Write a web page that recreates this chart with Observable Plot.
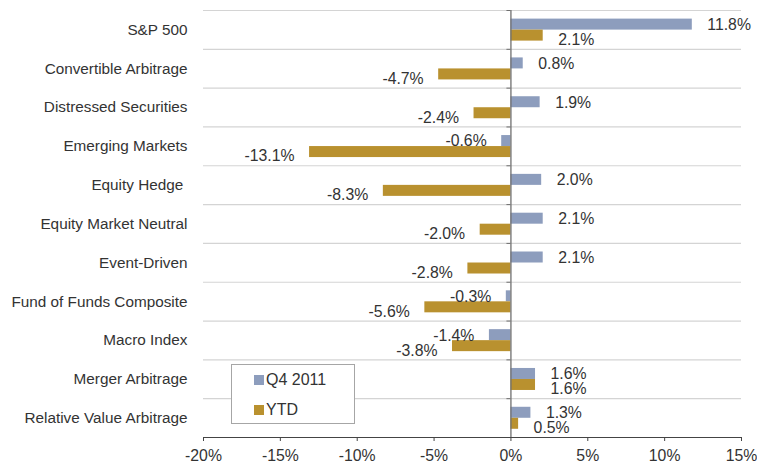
<!DOCTYPE html>
<html>
<head>
<meta charset="utf-8">
<script src="https://cdn.jsdelivr.net/npm/d3@7"></script>
<script src="https://cdn.jsdelivr.net/npm/@observablehq/plot@0.6"></script>
<style>
  body { margin: 0; background: #fff; }
  #wrap { position: relative; width: 757px; height: 466px; font-family: "Liberation Sans", Arial, sans-serif; color: #333; }
  #legend { position: absolute; left: 231px; top: 364px; width: 122px; height: 58px; border: 1px solid #a6a6a6; background: #fff; font-size: 16px; }
  .item { position: absolute; left: 22px; display: flex; align-items: center; }
  .sw { width: 10px; height: 10px; margin-right: 2px; }
</style>
</head>
<body>
<div id="wrap"></div>
<script>
const categories = ["S&P 500", "Convertible Arbitrage", "Distressed Securities", "Emerging Markets", "Equity Hedge ", "Equity Market Neutral", "Event-Driven", "Fund of Funds Composite", "Macro Index", "Merger Arbitrage", "Relative Value Arbitrage"];
const q4 = [11.8, 0.8, 1.9, -0.6, 2.0, 2.1, 2.1, -0.3, -1.4, 1.6, 1.3];
const ytd = [2.1, -4.7, -2.4, -13.1, -8.3, -2.0, -2.8, -5.6, -3.8, 1.6, 0.5];
const seriesNames = ["Q4 2011", "YTD"];
const colors = ["#8d9dbd", "#b9912f"];
const xTicks = [-20, -15, -10, -5, 0, 5, 10, 15];

const W = 757, H = 466, mT = 10, mB = 29, mL = 203, mR = 16;
const bw = (H - mT - mB) / categories.length;

const q4Data = categories.map((c, i) => ({cat: c, value: q4[i]}));
const ytdData = categories.map((c, i) => ({cat: c, value: ytd[i]}));
const fmt = d => d.value.toFixed(1) + "%";
const txt = "#333";

const labelMarks = (data, dy) => [
  Plot.text(data.filter(d => d.value >= 0), {x: "value", y: "cat", text: fmt, textAnchor: "start", dx: 15, dy, fontSize: 15.8, fill: txt}),
  Plot.text(data.filter(d => d.value < 0), {x: "value", y: "cat", text: fmt, textAnchor: "end", dx: -15, dy, fontSize: 15.8, fill: txt})
];

const chart = Plot.plot({
  width: W, height: H,
  marginTop: mT, marginBottom: mB, marginLeft: mL, marginRight: mR,
  style: {fontFamily: "Liberation Sans, Arial, sans-serif", fontSize: "15px", color: txt, background: "#fff"},
  x: {domain: [-20, 15], label: null},
  y: {domain: categories, padding: 0, round: false, label: null},
  marks: [
    Plot.ruleY(categories, {y: d => d, x1: -20, x2: 15, dy: -bw / 2, stroke: "#d4d4d4", strokeWidth: 1.2}),
    Plot.barX(q4Data, {x1: 0, x2: "value", y: "cat", fill: colors[0], insetTop: 8.6, insetBottom: bw - 8.6 - 11}),
    Plot.barX(ytdData, {x1: 0, x2: "value", y: "cat", fill: colors[1], insetTop: 8.6 + 11, insetBottom: bw - 8.6 - 22}),
    Plot.ruleX([0], {stroke: "#6f6f6f", strokeWidth: 1.3}),
    Plot.ruleY(categories, {y: d => d, x1: 0, x2: 0, insetLeft: -4, dy: -bw / 2, stroke: "#6f6f6f"}),
    Plot.ruleY([categories[categories.length - 1]], {y: d => d, x1: 0, x2: 0, insetLeft: -4, dy: bw / 2, stroke: "#6f6f6f"}),
    ...labelMarks(q4Data, -5),
    ...labelMarks(ytdData, 10),
    Plot.frame({anchor: "bottom", stroke: "#444"}),
    Plot.axisX({ticks: xTicks, tickFormat: d => d + "%", tickSize: 4, tickPadding: 8, fontSize: 15.8, stroke: "#444", label: null}),
    Plot.axisY({tickSize: 0, tickPadding: 16, fontSize: 15.3, label: null, tickFormat: d => d.replace(/ $/, "\u00a0")})
  ]
});

const wrap = document.getElementById("wrap");
wrap.appendChild(chart);
const legend = document.createElement("div");
legend.id = "legend";
seriesNames.forEach((name, i) => {
  const item = document.createElement("div");
  item.className = "item";
  item.style.top = (i === 0 ? 6 : 36) + "px";
  const sw = document.createElement("span");
  sw.className = "sw";
  sw.style.background = colors[i];
  const t = document.createElement("span");
  t.textContent = name;
  item.appendChild(sw); item.appendChild(t);
  legend.appendChild(item);
});
wrap.appendChild(legend);
</script>
</body>
</html>
